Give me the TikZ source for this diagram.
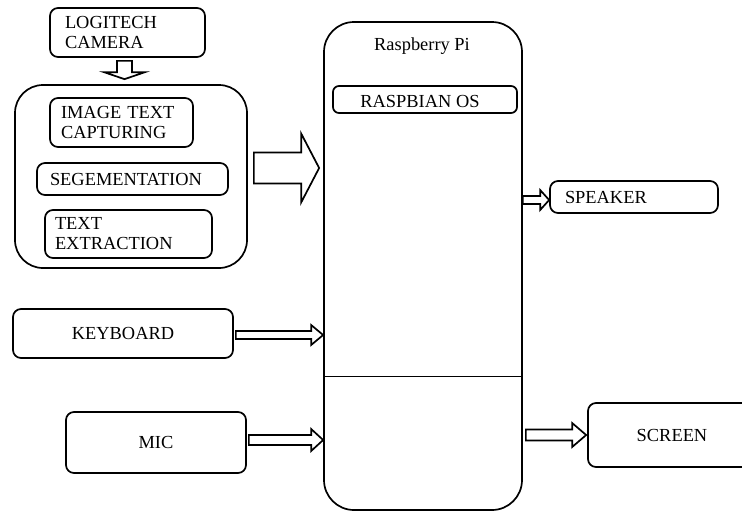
\documentclass[tikz,border=0pt]{standalone}
\usepackage{fontspec}
\setmainfont{Liberation Serif}
\newfontfamily\diagfont{Liberation Serif}
\usetikzlibrary{calc}
\tikzset{
  txt/.style={font=\diagfont\fontsize{18.4}{20}\selectfont},
  box/.style={draw, line width=1.7pt, rounded corners=8pt, txt, inner ysep=2pt},
  lbox/.style={box, align=left},
  blk/.style={draw, line width=1.7pt, fill=white, line join=miter},
}
\newcommand{\hblock}[5]{\draw[blk] let \p1=#1, \p2=#2 in
  (\x1,\y1+#3) -- (\x2-#5,\y1+#3) -- (\x2-#5,\y1+#4) -- (\x2,\y1) --
  (\x2-#5,\y1-#4) -- (\x2-#5,\y1-#3) -- (\x1,\y1-#3) -- cycle;}
\newcommand{\vblock}[5]{\draw[blk] let \p1=#1, \p2=#2 in
  (\x1-#3,\y1) -- (\x1-#3,\y2+#5) -- (\x1-#4,\y2+#5) -- (\x1,\y2) --
  (\x1+#4,\y2+#5) -- (\x1+#3,\y2+#5) -- (\x1+#3,\y1) -- cycle;}
\begin{document}
\begin{tikzpicture}[x=1pt,y=-1pt]
\useasboundingbox (0,0) rectangle (742,512);

% left group
\node[lbox, text width=125pt, inner xsep=15pt, minimum height=49pt] (cam) at (127.5,32.5) {LOGITECH\\CAMERA};
\node[box, rounded corners=28pt, minimum width=232pt, minimum height=183pt] (grp) at (131,176.5) {};
\node[lbox, text width=121pt, inner xsep=11pt, minimum height=49pt] (itc) at (121.5,122.5) {IMAGE TEXT\\CAPTURING};
\node[lbox, text width=165pt, inner xsep=13pt, minimum height=32pt] (seg) at (132.5,179) {SEGEMENTATION};
\node[lbox, text width=147pt, inner xsep=10pt, minimum height=48pt] (tex) at (128.5,234) {TEXT\\EXTRACTION};

% raspberry pi
\node[box, rounded corners=30pt, minimum width=198pt, minimum height=488pt] (rpi) at (423,266) {};
\node[txt] (rpit) at (422,46) {Raspberry Pi};
\node[box, rounded corners=6pt, minimum width=184pt, minimum height=27pt] (os) at (425,99.5) {};
\node[txt] (ost) at (420,101) {RASPBIAN OS};
\coordinate (divl) at (rpi.west |- 0,376);
\coordinate (divr) at (523,376);
\draw[line width=0.9pt] (divl) -- (divr);

% inputs / outputs
\node[lbox, text width=138pt, inner xsep=15pt, minimum height=32pt] (spk) at (634,197) {SPEAKER};
\node[box, minimum width=220pt, minimum height=49pt] (kb) at (123,333.5) {KEYBOARD};
\node[box, minimum width=180pt, minimum height=61pt] (mic) at (156,442.5) {MIC};
\node[box, minimum width=167pt, minimum height=64pt] (scr) at (671.5,435) {};
\node[txt] (scrt) at (672,435) {SCREEN};

% block arrows
\coordinate (dA) at ($(cam.south)+(-3,3)$);
\coordinate (dB) at ($(grp.north)+(-6.5,-5)$);
\vblock{(dA)}{(dB)}{7.5pt}{20.5pt}{7pt}

\coordinate (bA) at ($(grp.east)+(6,-8.5)$);
\coordinate (bB) at ($(rpi.west |- bA)+(-4,0)$);
\hblock{(bA)}{(bB)}{15.5pt}{34.5pt}{18pt}

\coordinate (sA) at (rpi.east |- 0,200);
\coordinate (sB) at (spk.west |- 0,200);
\hblock{(sA)}{(sB)}{4pt}{10pt}{9pt}

\coordinate (kA) at ($(kb.east)+(2,1.5)$);
\coordinate (kB) at (rpi.west |- kA);
\hblock{(kA)}{(kB)}{4pt}{10pt}{12pt}

\coordinate (mA) at ($(mic.east)+(2,-2.5)$);
\coordinate (mB) at (rpi.west |- mA);
\hblock{(mA)}{(mB)}{5pt}{11pt}{12pt}

\coordinate (cA) at ($(rpi.east |- scr.west)+(3,0)$);
\coordinate (cB) at ($(scr.west)+(-1,0)$);
\hblock{(cA)}{(cB)}{5.5pt}{12pt}{14pt}
\end{tikzpicture}
\end{document}
